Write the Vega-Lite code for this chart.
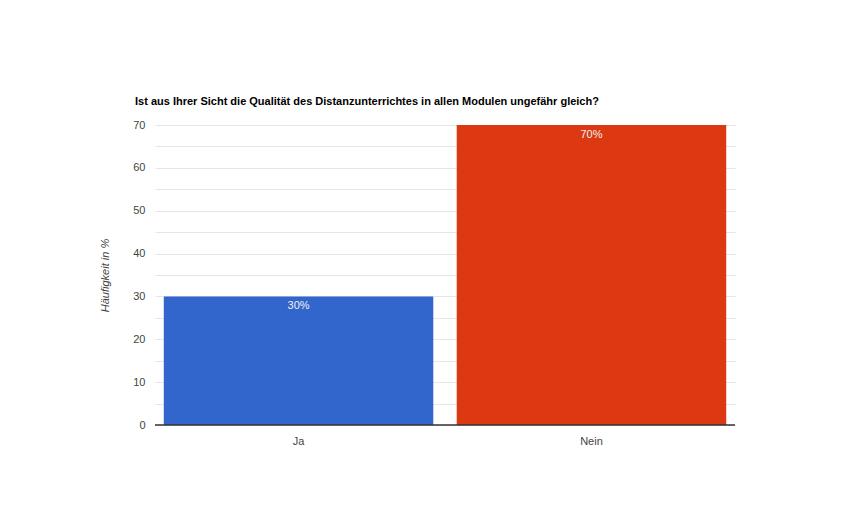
{
  "$schema": "https://vega.github.io/schema/vega-lite/v6.json",
  "autosize": "none",
  "width": 580,
  "height": 300,
  "padding": {"left": 155, "top": 125, "right": 130, "bottom": 97},
  "background": "white",
  "config": {"view": {"stroke": null}, "font": "Liberation Sans"},
  "title": {
    "text": "Ist aus Ihrer Sicht die Qualität des Distanzunterrichtes in allen Modulen ungefähr gleich?",
    "anchor": "start",
    "frame": "group",
    "fontSize": 11,
    "fontWeight": "bold",
    "color": "#000000",
    "offset": 12,
    "dx": -20
  },
  "data": {
    "values": [
      {"antwort": "Ja", "wert": 30, "label": "30%"},
      {"antwort": "Nein", "wert": 70, "label": "70%"}
    ]
  },
  "encoding": {
    "x": {
      "field": "antwort",
      "type": "nominal",
      "sort": null,
      "scale": {"paddingInner": 0.08, "paddingOuter": 0.03},
      "axis": {
        "title": null,
        "labelAngle": 0,
        "domain": false,
        "ticks": false,
        "labelColor": "#444444",
        "labelFontSize": 11,
        "labelPadding": 10
      }
    },
    "y": {
      "field": "wert",
      "type": "quantitative",
      "scale": {"domain": [0, 70], "nice": false},
      "axis": {
        "title": "Häufigkeit in %",
        "titleFontWeight": "normal",
        "titleFontStyle": "italic",
        "titleColor": "#444444",
        "titleFontSize": 11,
        "titlePadding": 22,
        "values": [0, 5, 10, 15, 20, 25, 30, 35, 40, 45, 50, 55, 60, 65, 70],
        "labelExpr": "datum.value % 10 == 0 ? datum.label : ''",
        "labelColor": "#444444",
        "labelFontSize": 11,
        "labelPadding": 10,
        "domain": false,
        "ticks": false,
        "gridColor": "#e6e6e6"
      }
    }
  },
  "layer": [
    {
      "mark": {"type": "bar"},
      "encoding": {
        "color": {
          "field": "antwort",
          "type": "nominal",
          "scale": {"domain": ["Ja", "Nein"], "range": ["#3366cc", "#dc3912"]},
          "legend": null
        }
      }
    },
    {
      "mark": {"type": "text", "baseline": "top", "dy": 4, "fontSize": 11, "color": "#f0f0f0"},
      "encoding": {"text": {"field": "label"}}
    },
    {
      "mark": {"type": "rule", "color": "#333333", "strokeWidth": 1},
      "encoding": {"y": {"datum": 0}, "x": null}
    }
  ]
}
